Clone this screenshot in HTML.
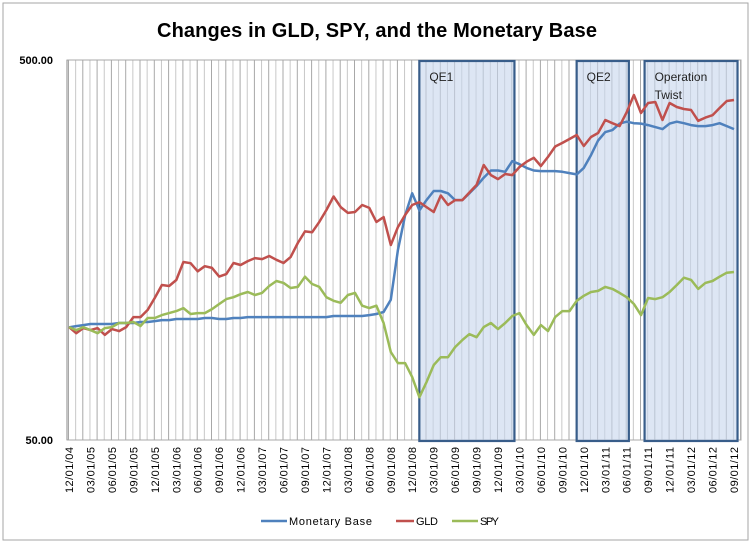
<!DOCTYPE html>
<html><head><meta charset="utf-8"><style>
body{margin:0;background:#fff;}
svg{display:block;font-family:"Liberation Sans",sans-serif;}
</style></head><body>
<svg id="chart" width="754" height="547" viewBox="0 0 754 547">
<rect x="3" y="3" width="745" height="537" fill="#fff" stroke="#a6a6a6"/>
<text x="377" y="37" text-anchor="middle" font-size="20" font-weight="bold" fill="#000" textLength="440">Changes in GLD, SPY, and the Monetary Base</text>
<g id="grid"></g>
<g id="boxes"></g>
<g id="axes"></g>
<g id="series"></g>
<g id="legend"></g>
</svg>
<script>
const startYear = 2004, startMonth = 12;
const monetaryBase = [99,99.7,100.3,101,101,101,101,101.6,101.6,101.6,
102.2,102.2,102.8,103.4,103.4,104.1,104.1,104.1,104.1,104.7,
104.7,104.1,104.1,104.7,104.7,105.3,105.3,105.3,105.3,105.3,
105.3,105.3,105.3,105.3,105.3,105.3,105.3,106,106,106,
106,106,106.6,107.3,108.6,117,158,195,223,201,
214,226,226,223,214,214,223,233,245,256,
256,254,271,266,260,256,255,255,255,254,
252,250,260,281,307,323,327,340,344,341,
340,337,333,329,340,344,341,337,335,335,
337,341,335,329];
const gld = [99.1,95.5,98.5,97.3,98.5,94.5,97.9,96.7,99.1,105.3,
105.3,110,118.3,127.9,127.1,131.8,147,146,139,143.3,
141.9,134.6,136.6,146.1,144.4,147.8,150.5,149.6,152.5,149,
146.1,151.5,165,177,176,187.5,201.5,218.6,205,198,
199,207.7,204,187.4,193,163,181.6,195.5,207.7,211.4,
205,199,220,207.7,214,214,224,234.6,264.6,249,
243,250.6,249,261.4,270,276.5,263,278,296,302.5,
309.8,317.4,296.9,313.6,321.3,347.5,341,335,364.5,404.4,
362.6,385.4,387.6,347.6,385.3,376,371.6,369.3,346,352.6,
357.9,373.9,390,392.4];
const spy = [99.1,97.3,99.1,97.3,95.5,98.5,99.1,101.6,101.6,102.2,
99.7,104.7,104.7,106.6,107.9,109.2,111.2,107.3,107.9,107.9,
110.5,114,117.4,118.8,121,122.6,120.4,121.9,127.1,131,
129.5,125.6,126.4,134.5,128.7,126.4,118.8,116.2,114.8,120.4,
121.9,112.8,111.2,112.8,101.6,85.2,79.7,79.7,73.2,64.8,
71,78.7,82.6,82.6,87.8,91.6,95,93.2,99.1,101.6,
97.9,101.6,106,107.9,100.3,94.5,100.3,96.7,105.3,109.2,
109.2,116.2,119.8,122.6,123.4,126.4,124.9,121.9,118.8,114,
106.6,118.2,117.4,118.8,122.6,127.9,133.7,131.9,124.9,129.5,
131,134.5,137.8,138.4];
const yTicks = [50, 500];
const periods = ["QE1","QE2","Operation Twist"];
const periodStart = [49, 71, 80.5];
const periodEnd = [62.3, 78.3, 93.5];
const seriesNames = ["Monetary Base","GLD","SPY"];

const NS = "http://www.w3.org/2000/svg";
const X0 = 69, STEP = 7.15, PL = 67, PR = 741, PT = 60, PB = 440;
const xs = i => X0 + i * STEP;
const ys = v => PB - (PB - PT) * Math.log10(v / 50) / Math.log10(500 / 50);
function mk(tag, attrs, parent){const e=document.createElementNS(NS,tag);for(const k in attrs)e.setAttribute(k,attrs[k]);parent.appendChild(e);return e;}

const grid = document.getElementById('grid');
for (let i = 0; i <= 94; i++) {
  const x = xs(i) - 0.5;
  if (x > PR) break;
  const l = mk('line',{x1:x,y1:PT,x2:x,y2:PB,stroke:(i%2?'#c8c8c8':'#a8a8a8'),'stroke-width':1},grid);
  
  
}
const pb = mk('rect',{x:PL,y:PT,width:PR-PL,height:PB-PT,fill:'none',stroke:'#a8a8a8'},grid);



const boxes = document.getElementById('boxes');
periods.forEach((p, k) => {
  const x1 = xs(periodStart[k]), x2 = xs(periodEnd[k]);
  const r = mk('rect',{x:x1,y:PT+1,width:x2-x1,height:PB-PT,fill:'#c6d6ec','fill-opacity':0.6,stroke:'#385d8a','stroke-width':2.2},boxes);
  
  
  const words = p === 'Operation Twist' ? ['Operation','Twist'] : [p];
  words.forEach((w, j) => {
    const t = mk('text',{x:x1+10,y:PT+21+j*18,'font-size':12,fill:'#222'},boxes);
    t.textContent = w;
    
    
  });
});

const axes = document.getElementById('axes');
mk('line',{x1:PL,y1:PT,x2:PL,y2:PB,stroke:'#888'},axes);
yTicks.forEach(v => {
  const t = mk('text',{x:53,y:ys(v)+4,'text-anchor':'end','font-size':11,'font-weight':'bold',fill:'#000'},axes);
  t.textContent = v.toFixed(2);
  
  
});
for (let i = 0; i < monetaryBase.length; i += 3) {
  let m = startMonth + i, y = startYear;
  while (m > 12) { m -= 12; y++; }
  const lbl = String(m).padStart(2,'0') + '/01/' + String(y % 100).padStart(2,'0');
  const x = xs(i) + 4, yy = 447;
  const t = mk('text',{x:x,y:yy,'text-anchor':'end','font-size':11,fill:'#000',textLength:46,transform:`rotate(-90 ${x} ${yy})`},axes);
  t.textContent = lbl;
  
  
}

const colors = ['#4f81bd','#c0504d','#9bbb59'];
const seriesG = document.getElementById('series');
[monetaryBase, gld, spy].forEach((arr, k) => {
  const pts = arr.map((v, i) => xs(i).toFixed(1) + ',' + ys(v).toFixed(1)).join(' ');
  const pl = mk('polyline',{points:pts,fill:'none',stroke:colors[k],'stroke-width':2.5,'stroke-linejoin':'round'},seriesG);
  
  
});

const legend = document.getElementById('legend');
const lx = [261, 396, 452];
const ll = [26, 18, 26];
const lw = [83, 22, 19];
seriesNames.forEach((n, k) => {
  const g = mk('g',{},legend);
  
  
  mk('line',{x1:lx[k],y1:521,x2:lx[k]+ll[k],y2:521,stroke:colors[k],'stroke-width':2.5},g);
  const t = mk('text',{x:lx[k]+ll[k]+2,y:525,'font-size':11,fill:'#000',textLength:lw[k]},g);
  t.textContent = n;
});
</script>
</body></html>
